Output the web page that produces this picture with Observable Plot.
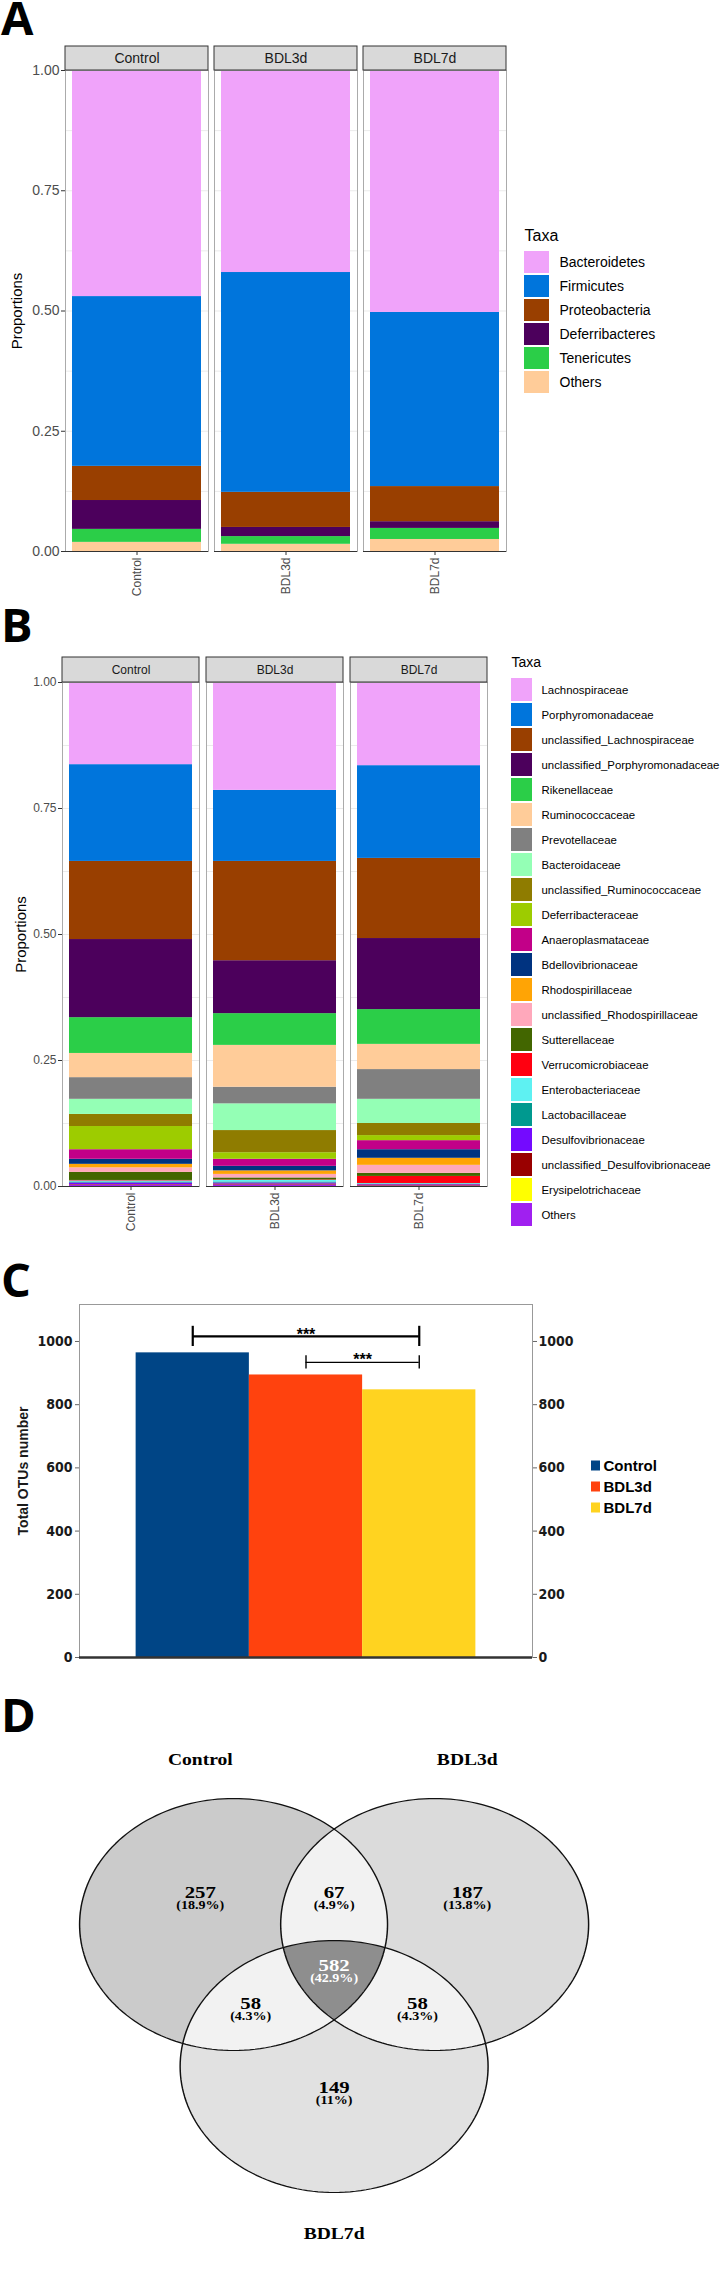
<!DOCTYPE html>
<html>
<head>
<meta charset="utf-8">
<script src="https://cdn.jsdelivr.net/npm/d3@7"></script>
<script src="https://cdn.jsdelivr.net/npm/@observablehq/plot@0.6"></script>
<style>
html,body{margin:0;padding:0;background:#fff;}
#page{position:relative;width:721px;height:2293px;overflow:hidden;background:#fff;}
.letter{position:absolute;left:1px;font-family:"Open Sans",sans-serif;font-weight:700;font-size:47px;line-height:34px;height:36px;color:#000;margin:0;}
</style>
</head>
<body>
<div id="page"></div>
<script>
// ================= DATA =================
const groups = ["Control", "BDL3d", "BDL7d"];
const proportionTicks = [0, 0.25, 0.5, 0.75, 1];

// Panel A – phylum level
const phylumTaxa = ["Bacteroidetes", "Firmicutes", "Proteobacteria", "Deferribacteres", "Tenericutes", "Others"];
const phylumColors = ["#F0A3FA", "#0075DC", "#993F00", "#4C005C", "#2BCE48", "#FFCC99"];
const phylumControl = [0.470, 0.353, 0.071, 0.060, 0.027, 0.019];
const phylumBDL3d   = [0.420, 0.457, 0.073, 0.019, 0.016, 0.015];
const phylumBDL7d   = [0.503, 0.362, 0.073, 0.014, 0.023, 0.025];

// Panel B – family level
const familyTaxa = ["Lachnospiraceae", "Porphyromonadaceae", "unclassified_Lachnospiraceae", "unclassified_Porphyromonadaceae",
  "Rikenellaceae", "Ruminococcaceae", "Prevotellaceae", "Bacteroidaceae", "unclassified_Ruminococcaceae", "Deferribacteraceae",
  "Anaeroplasmataceae", "Bdellovibrionaceae", "Rhodospirillaceae", "unclassified_Rhodospirillaceae", "Sutterellaceae",
  "Verrucomicrobiaceae", "Enterobacteriaceae", "Lactobacillaceae", "Desulfovibrionaceae", "unclassified_Desulfovibrionaceae",
  "Erysipelotrichaceae", "Others"];
const familyColors = ["#F0A3FA", "#0075DC", "#993F00", "#4C005C", "#2BCE48", "#FFCC99", "#808080", "#94FFB5", "#8F7C00", "#9DCC00",
  "#C20088", "#003380", "#FFA405", "#FFA8BB", "#426600", "#FF0010", "#5EF1F2", "#00998F", "#740AFF", "#990000", "#FFFF00", "#A020F0"];
const familyControl = [0.163, 0.192, 0.155, 0.155, 0.071, 0.048, 0.043, 0.030, 0.024, 0.046, 0.019, 0.010, 0.007, 0.009, 0.016, 0.001, 0.002, 0.002, 0.003, 0.001, 0.000, 0.003];
const familyBDL3d   = [0.214, 0.141, 0.197, 0.105, 0.063, 0.083, 0.033, 0.053, 0.044, 0.013, 0.014, 0.009, 0.007, 0.007, 0.004, 0.001, 0.003, 0.002, 0.002, 0.002, 0.000, 0.003];
const familyBDL7d   = [0.165, 0.184, 0.159, 0.141, 0.069, 0.050, 0.059, 0.048, 0.024, 0.010, 0.018, 0.017, 0.014, 0.016, 0.006, 0.014, 0.001, 0.001, 0.001, 0.002, 0.000, 0.001];

// Panel C – total OTUs
const otuTotals = [964, 894, 847];
const otuColors = ["#004586", "#FF420E", "#FFD320"];
const otuTicks = [0, 200, 400, 600, 800, 1000];
const sigFrom = ["Control", "BDL3d"];
const sigTo = ["BDL7d", "BDL7d"];
const sigLevel = [1016, 934];
const sigLabel = ["***", "***"];

// Panel D – Venn diagram
const vennSetNames = ["Control", "BDL3d", "BDL7d"];
const vennCx = [-0.653, 0.653, 0];
const vennCy = [0, 0, -1.127];
const vennR = [1, 1, 1];
const vennNameX = [-0.869, 0.865, 0];
const vennNameY = [1.307, 1.307, -2.452];
const vennCounts = [257, 67, 187, 582, 58, 58, 149];
const vennPcts = ["18.9%", "4.9%", "13.8%", "42.9%", "4.3%", "4.3%", "11%"];
const vennSetsIn = [1, 2, 1, 3, 2, 2, 1];
const vennLabelX = [-0.869, 0, 0.865, 0, -0.542, 0.541, 0];
const vennLabelY = [0.256, 0.256, 0.256, -0.325, -0.625, -0.625, -1.291];

// ================= HELPERS =================
const sans = "'Liberation Sans', Arial, Helvetica, sans-serif";
const narrow = "'Liberation Sans Narrow', 'DejaVu Sans Condensed', 'Liberation Sans', sans-serif";
const serif = "'Liberation Serif', 'Times New Roman', serif";
const page = document.getElementById("page");

function place(node, left, top) {
  node.style.position = "absolute";
  node.style.left = left + "px";
  node.style.top = top + "px";
  page.appendChild(node);
  return node;
}
function letter(ch, top) {
  const d = document.createElement("div");
  d.className = "letter";
  d.textContent = ch;
  d.style.top = top + "px";
  page.appendChild(d);
}
function table(taxa, series) {
  return groups.flatMap((g, gi) => taxa.map((t, ti) => ({group: g, taxon: t, value: series[gi][ti]})));
}

function facetBars(o) {
  return Plot.plot({
    width: o.width, height: o.height,
    marginLeft: o.marginLeft, marginRight: o.marginRight, marginTop: o.marginTop, marginBottom: o.marginBottom,
    style: {background: "none", fontFamily: sans, overflow: "visible"},
    fx: {domain: groups, paddingInner: o.padding, paddingOuter: 0, axis: null, label: null},
    y: {domain: [0, 1], axis: null},
    color: {domain: o.taxa, range: o.colors},
    marks: [
      Plot.gridY(d3.range(0, 1.0001, 0.125), {stroke: "#ebebeb", strokeOpacity: 1}),
      Plot.barY(o.data, {fx: "group", y: "value", fill: "taxon", order: o.taxa.slice().reverse(), insetLeft: 7, insetRight: 7}),
      Plot.frame({stroke: "#ababab"}),
      Plot.ruleY([0], {stroke: "#333333"}),
      Plot.barY(groups, {fx: d => d, y1: 1, y2: 1, insetTop: -o.stripPx, fill: "#d9d9d9", stroke: "#333333"}),
      Plot.text(groups, {fx: d => d, y: 1, dy: -o.stripPx / 2, text: d => d, fontSize: o.stripSize, fill: "#1a1a1a"}),
      Plot.ruleX(groups, {fx: d => d, x: null, y1: 0, y2: 0, insetBottom: -4, stroke: "#333333"}),
      Plot.text(groups, {fx: d => d, y: 0, dy: 6, text: d => d, rotate: -90, textAnchor: "end", fontSize: o.labelSize, fill: "#4d4d4d"}),
      Plot.axisY({ticks: proportionTicks, tickFormat: d3.format(".2f"), tickSize: 4, tickPadding: 2, fontSize: o.tickSize, fill: "#4d4d4d", stroke: "#333333", label: null}),
      Plot.text(["Proportions"], {fx: () => groups[0], frameAnchor: "left", rotate: -90, textAnchor: "middle", lineAnchor: "middle", dx: o.titleDx, fontSize: o.titleSize, fill: "#000"})
    ]
  });
}

function taxaLegend(o) {
  return Plot.plot({
    width: o.width, height: o.height,
    marginLeft: o.marginLeft, marginRight: o.width - o.marginLeft - o.swatchW, marginTop: o.marginTop,
    marginBottom: o.height - o.marginTop - o.step * o.taxa.length,
    style: {background: "none", fontFamily: sans, overflow: "visible"},
    y: {domain: o.taxa, padding: 0, axis: null},
    color: {domain: o.taxa, range: o.colors},
    marks: [
      Plot.cell(o.taxa, {y: d => d, fill: d => d, insetTop: o.inset, insetBottom: o.inset}),
      Plot.text(o.taxa, {y: d => d, text: d => d, frameAnchor: "right", textAnchor: "start", lineAnchor: "middle", dx: o.textDx, fontSize: o.fontSize, fill: "#000", fontWeight: o.fontWeight || "normal"}),
      ...(o.title ? [Plot.text([o.title], {frameAnchor: "top-left", textAnchor: "start", lineAnchor: "middle", dy: o.titleDy, fontSize: o.titleSize, fill: "#000"})] : [])
    ]
  });
}

// ================= PANEL A =================
letter("A", 0);
place(facetBars({
  data: table(phylumTaxa, [phylumControl, phylumBDL3d, phylumBDL7d]), taxa: phylumTaxa, colors: phylumColors,
  width: 520, height: 610, marginLeft: 64, marginRight: 12, marginTop: 70, marginBottom: 59,
  padding: 0.037, stripPx: 24, stripSize: 14, labelSize: 12, tickSize: 14, titleSize: 15, titleDx: -48
}), 0, 0);
place(taxaLegend({
  taxa: phylumTaxa, colors: phylumColors, width: 206, height: 200, marginLeft: 9, swatchW: 25,
  marginTop: 50, step: 24, inset: 1, textDx: 10, fontSize: 14, title: "Taxa", titleSize: 16, titleDy: -15
}), 515, 200);

// ================= PANEL B =================
letter("B", 607);
place(facetBars({
  data: table(familyTaxa, [familyControl, familyBDL3d, familyBDL7d]), taxa: familyTaxa, colors: familyColors,
  width: 500, height: 650, marginLeft: 61, marginRight: 12, marginTop: 82, marginBottom: 64,
  padding: 0.048, stripPx: 25, stripSize: 12, labelSize: 12, tickSize: 12, titleSize: 15, titleDx: -41
}), 0, 600);
place(taxaLegend({
  taxa: familyTaxa, colors: familyColors, width: 214, height: 600, marginLeft: 6, swatchW: 21,
  marginTop: 37, step: 25, inset: 1, textDx: 9, fontSize: 11.4, title: "Taxa", titleSize: 14, titleDy: -15
}), 505, 640);

// ================= PANEL C =================
letter("C", 1262);
const otuData = groups.map((g, i) => ({group: g, index: i, total: otuTotals[i]}));
const sigCapHalf = [32, 21];
const sigWidth = [2.2, 1.4];
const sigData = sigFrom.map((f, k) => ({
  from: groups.indexOf(f), to: groups.indexOf(sigTo[k]), level: sigLevel[k], label: sigLabel[k], cap: sigCapHalf[k], w: sigWidth[k]
}));
const sigCaps = sigData.flatMap(d => [d.from, d.to].map(x => ({x, lo: d.level - d.cap, hi: d.level + d.cap, w: d.w})));
const axisStyle = {ticks: otuTicks, tickFormat: d3.format("d"), tickSize: 4, fontSize: 14, fontWeight: "bold", fontFamily: narrow, fill: "#1a1a1a", stroke: "#666666", label: null};
place(Plot.plot({
  width: 580, height: 400, marginLeft: 79, marginRight: 48, marginTop: 14, marginBottom: 33,
  style: {background: "none", fontFamily: sans, overflow: "visible"},
  x: {domain: [-1, 3], axis: null},
  y: {domain: [0, 1117], axis: null},
  color: {domain: groups, range: otuColors},
  marks: [
    Plot.rect(otuData, {x1: d => d.index - 0.5, x2: d => d.index + 0.5, y1: 0, y2: "total", fill: "group"}),
    Plot.frame({stroke: "#999999"}),
    Plot.ruleY([0], {stroke: "#333333", strokeWidth: 2.5}),
    Plot.axisY({...axisStyle, anchor: "left", tickPadding: 3}),
    Plot.axisY({...axisStyle, anchor: "right", tickPadding: 2}),
    Plot.text(["Total OTUs number"], {frameAnchor: "left", rotate: -90, textAnchor: "middle", lineAnchor: "middle", dx: -56, dy: -10, fontSize: 14, fontWeight: "bold", fill: "#1a1a1a"}),
    Plot.ruleY(sigData, {y: "level", x1: "from", x2: "to", stroke: "#000", strokeWidth: "w"}),
    Plot.ruleX(sigCaps, {x: "x", y1: "lo", y2: "hi", stroke: "#000", strokeWidth: "w"}),
    Plot.text(sigData, {x: d => (d.from + d.to) / 2, y: "level", text: "label", dy: -2, lineAnchor: "middle", fontSize: 16, fontWeight: "bold", fill: "#000"})
  ]
}), 0, 1290);
place(taxaLegend({
  taxa: groups, colors: otuColors, width: 136, height: 90, marginLeft: 6, swatchW: 9,
  marginTop: 14.5, step: 21, inset: 5.5, textDx: 3, fontSize: 15, fontWeight: "bold"
}), 585, 1440);

// ================= PANEL D =================
letter("D", 1697);
const vennPx = 126;                 // pixels per Venn unit before horizontal stretch
const vennStretch = 721 / 590;      // original diagram is stretched horizontally
const vennCenterX = 272.9, vennCenterY = 224;
const singleFills = ["#cbcbcb", "#dbdbdb", "#e1e1e1"];
const pairFill = "#f2f2f2", tripleFill = "#8e8e8e";
function vennFill(x, y) {
  const inside = vennSetNames.map((s, k) => (x - vennCx[k]) ** 2 + (y - vennCy[k]) ** 2 <= vennR[k] ** 2);
  const n = inside.filter(Boolean).length;
  if (n === 0) return "white";
  if (n === 3) return tripleFill;
  if (n === 2) return pairFill;
  return singleFills[inside.indexOf(true)];
}
const angles = d3.range(0, 361, 2);
const outline = vennSetNames.flatMap((s, k) => angles.map(a => ({
  set: s, x: vennCx[k] + vennR[k] * Math.cos(a * Math.PI / 180), y: vennCy[k] + vennR[k] * Math.sin(a * Math.PI / 180)
})));
const vennNames = vennSetNames.map((s, k) => ({name: s, x: vennNameX[k], y: vennNameY[k]}));
const vennRegions = vennCounts.map((c, k) => ({count: c, pct: "(" + vennPcts[k] + ")", n: vennSetsIn[k], x: vennLabelX[k], y: vennLabelY[k]}));
const rx1 = -1.7, rx2 = 1.7, ry1 = -2.2, ry2 = 1.05;
const svgD = Plot.plot({
  width: 590, height: 593, margin: 0,
  style: {background: "none", overflow: "visible"},
  x: {domain: [-2, 2], range: [vennCenterX - 2 * vennPx, vennCenterX + 2 * vennPx], axis: null},
  y: {domain: [-2, 2], range: [vennCenterY + 2 * vennPx, vennCenterY - 2 * vennPx], axis: null},
  marks: [
    Plot.raster({x1: rx1, x2: rx2, y1: ry1, y2: ry2, width: Math.round((rx2 - rx1) * vennPx), height: Math.round((ry2 - ry1) * vennPx), fill: vennFill}),
    Plot.line(outline, {x: "x", y: "y", z: "set", stroke: "#111", strokeWidth: 1.2}),
    Plot.text(vennNames, {x: "x", y: "y", text: "name", fontFamily: serif, fontWeight: "bold", fontSize: 16, fill: "#000"}),
    Plot.text(vennRegions, {x: "x", y: "y", text: d => String(d.count), fontFamily: serif, fontWeight: "bold", fontSize: 17, fill: d => d.n === 3 ? "#ffffff" : "#000000"}),
    Plot.text(vennRegions, {x: "x", y: "y", dy: 13, text: "pct", fontFamily: serif, fontWeight: "bold", fontSize: 11.5, fill: d => d.n === 3 ? "#ffffff" : "#000000"})
  ]
});
svgD.style.transformOrigin = "0 0";
svgD.style.transform = `scaleX(${vennStretch})`;
svgD.style.maxWidth = "none";
place(svgD, 0, 1700);
</script>
</body>
</html>
